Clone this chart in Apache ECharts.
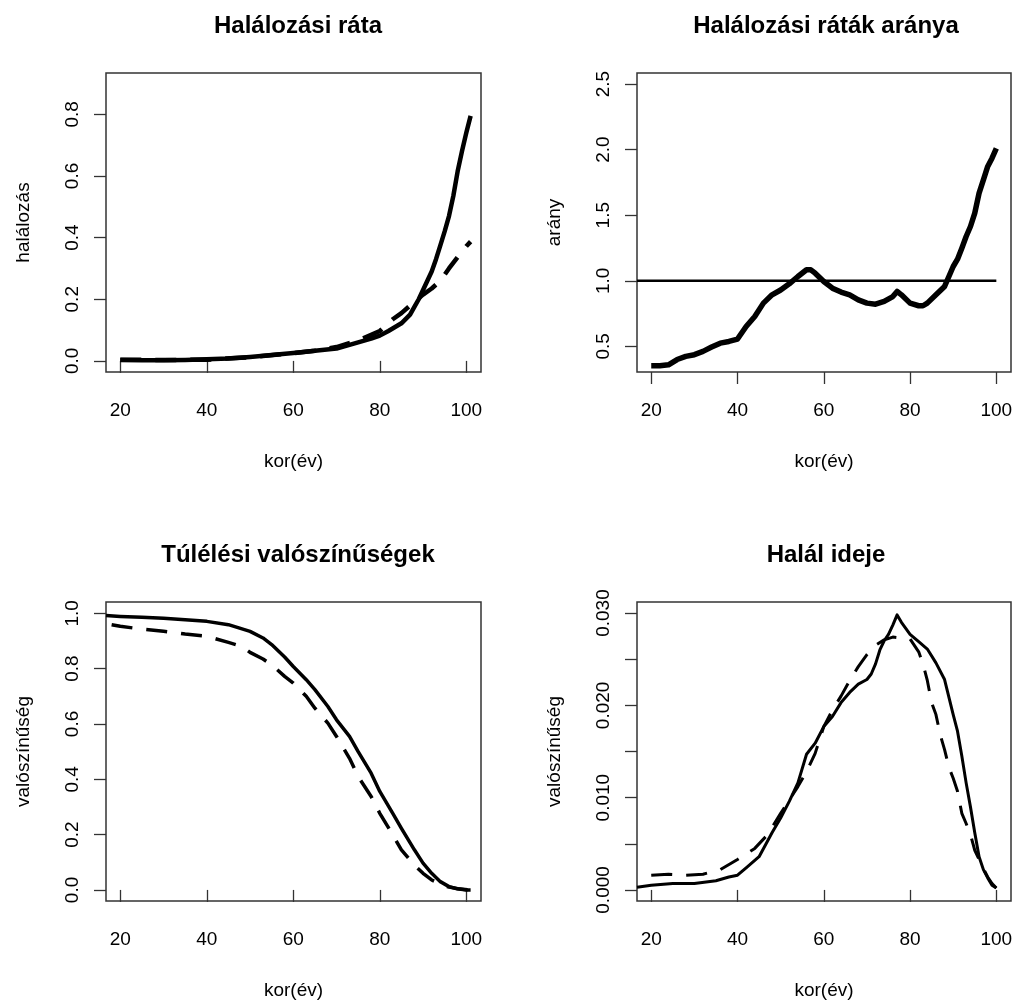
<!DOCTYPE html>
<html>
<head>
<meta charset="utf-8">
<title>Halálozás</title>
<script src="https://cdn.jsdelivr.net/npm/echarts@6.0.0/dist/echarts.min.js"></script>
<style>
	html, body { margin: 0; padding: 0; background: #fff; }
	#chart { width: 1017px; height: 1008px; }
</style>
</head>
<body>
<div id="chart"></div>
<script>
// tengelyek osztásai
var ageTicks = [20, 40, 60, 80, 100];
var rateTicks = [0, 0.2, 0.4, 0.6, 0.8];
var ratioTicks = [0.5, 1.0, 1.5, 2.0, 2.5];
var survTicks = [0, 0.2, 0.4, 0.6, 0.8, 1.0];
var densTicks = [0, 0.005, 0.01, 0.015, 0.02, 0.025, 0.03];
var densLabels = [0, 0.01, 0.02, 0.03];

// 1. halálozási ráta
var rateAgeA = [20, 25, 30, 35, 40, 45, 50, 55, 60, 65, 70, 72, 75, 78, 80, 82, 85, 87, 88, 89, 90, 91, 92, 93, 94, 95, 96, 97, 98, 99, 100, 101];
var rateA = [0.003, 0.002, 0.002, 0.003, 0.005, 0.008, 0.013, 0.019, 0.026, 0.033, 0.040, 0.048, 0.060, 0.072, 0.082, 0.097, 0.122, 0.150, 0.175, 0.200, 0.230, 0.260, 0.290, 0.330, 0.375, 0.420, 0.470, 0.535, 0.615, 0.680, 0.740, 0.795];
var rateAgeB = [20, 30, 40, 50, 60, 65, 70, 75, 80, 83, 85, 88, 90, 92, 94, 96, 98, 100, 101];
var rateB = [0.004, 0.003, 0.004, 0.012, 0.025, 0.033, 0.045, 0.066, 0.097, 0.135, 0.155, 0.192, 0.215, 0.235, 0.260, 0.300, 0.337, 0.372, 0.387];

// 2. ráták aránya
var ratioAge = [20, 22, 24, 26, 28, 30, 32, 34, 36, 38, 40, 42, 44, 46, 48, 50, 52, 54, 56, 57, 58, 60, 62, 64, 66, 68, 70, 72, 74, 76, 77, 78, 80, 82, 83, 84, 86, 88, 89, 90, 91, 92, 93, 94, 95, 96, 97, 98, 99, 100];
var ratio = [0.353, 0.353, 0.36, 0.40, 0.424, 0.437, 0.462, 0.495, 0.525, 0.538, 0.556, 0.652, 0.728, 0.83, 0.893, 0.93, 0.977, 1.033, 1.084, 1.084, 1.058, 0.995, 0.944, 0.914, 0.893, 0.855, 0.83, 0.822, 0.843, 0.88, 0.919, 0.893, 0.83, 0.81, 0.81, 0.83, 0.893, 0.957, 1.033, 1.109, 1.165, 1.249, 1.338, 1.414, 1.516, 1.668, 1.77, 1.872, 1.935, 2.01];
var refAge = [16.7, 100];
var refLevel = [1, 1];

// 3. túlélési valószínűségek
var survAgeA = [16.7, 20, 25, 30, 35, 40, 45, 50, 53, 55, 58, 60, 63, 65, 68, 70, 73, 75, 78, 80, 83, 85, 88, 90, 92, 94, 96, 98, 100, 101];
var survA = [0.992, 0.989, 0.986, 0.982, 0.977, 0.971, 0.959, 0.935, 0.911, 0.887, 0.842, 0.808, 0.76, 0.724, 0.663, 0.615, 0.555, 0.50, 0.422, 0.356, 0.277, 0.223, 0.145, 0.097, 0.06, 0.03, 0.012, 0.004, 0.0, 0.0];
var survAgeB = [18, 20, 25, 30, 35, 40, 45, 48, 50, 53, 55, 58, 60, 63, 65, 68, 70, 73, 75, 78, 80, 83, 85, 88, 90, 92, 95, 98, 101];
var survB = [0.959, 0.953, 0.943, 0.935, 0.925, 0.917, 0.895, 0.881, 0.859, 0.835, 0.814, 0.772, 0.748, 0.70, 0.657, 0.603, 0.555, 0.476, 0.41, 0.338, 0.277, 0.199, 0.145, 0.09, 0.06, 0.036, 0.014, 0.004, 0.0];

// 4. halál ideje
var densAgeA = [16.7, 20, 25, 30, 35, 38, 40, 42, 45, 48, 50, 52, 54, 56, 58, 60, 62, 64, 66, 68, 70, 71, 72, 73, 74, 75, 76, 77, 78, 80, 82, 84, 86, 88, 90, 91, 92, 93, 94, 95, 96, 97, 98, 99, 100];
var densA = [0.0003, 0.0005, 0.0007, 0.0007, 0.001, 0.0014, 0.0016, 0.0024, 0.0036, 0.0062, 0.0078, 0.0096, 0.0116, 0.0147, 0.0159, 0.0177, 0.0188, 0.0203, 0.0214, 0.0223, 0.0228, 0.0234, 0.0245, 0.026, 0.027, 0.0277, 0.0287, 0.0298, 0.029, 0.0277, 0.0269, 0.0261, 0.0246, 0.0228, 0.019, 0.0172, 0.0145, 0.0116, 0.009, 0.0062, 0.0036, 0.0022, 0.0013, 0.0005, 0.0002];
var densAgeB = [20, 24, 28, 32, 36, 40, 44, 47, 50, 54, 56, 58, 60, 62, 64, 66, 68, 70, 71, 72, 74, 76, 78, 80, 82, 83, 84, 85, 86, 87, 88, 89, 90, 91, 92, 93, 94, 95, 96, 97, 98, 99, 100];
var densB = [0.0016, 0.0017, 0.0016, 0.0017, 0.0022, 0.0033, 0.0045, 0.006, 0.0083, 0.0112, 0.0128, 0.0148, 0.0177, 0.0195, 0.021, 0.0227, 0.0242, 0.0255, 0.026, 0.0265, 0.0271, 0.0274, 0.0273, 0.0272, 0.0258, 0.0245, 0.0227, 0.0203, 0.019, 0.0168, 0.0152, 0.0133, 0.0121, 0.0107, 0.0083, 0.0072, 0.006, 0.0043, 0.0033, 0.0023, 0.0014, 0.0007, 0.0002];

var FONT = '"Liberation Sans", Arial, sans-serif';
var DASH = [21, 14];

//x,y párok összefűzése
function pairs(xs, ys) {
	var out = [];
	for(var i = 0; i < xs.length; i++) {
		out.push([xs[i], ys[i]]);
	}
	return out;
}

function xAxisOf(idx) {
	return {
		type: 'value',
		gridIndex: idx,
		min: 16.7,
		max: 103.4,
		name: 'kor(év)',
		nameLocation: 'middle',
		nameGap: 80,
		nameTextStyle: { fontFamily: FONT, fontSize: 19, color: '#000' },
		axisLine: { show: false },
		axisTick: { show: true, inside: false, length: 12, customValues: ageTicks, lineStyle: { color: '#333', width: 1.3 } },
		axisLabel: { customValues: ageTicks, margin: 29, fontFamily: FONT, fontSize: 19, color: '#000' },
		splitLine: { show: false }
	};
}

function yAxisOf(idx, name, min, max, ticks, labels, digits) {
	return {
		type: 'value',
		gridIndex: idx,
		min: min,
		max: max,
		name: name,
		nameLocation: 'middle',
		nameGap: 73,
		nameTextStyle: { fontFamily: FONT, fontSize: 19, color: '#000' },
		axisLine: { show: false },
		axisTick: { show: true, inside: false, length: 12, customValues: ticks, lineStyle: { color: '#333', width: 1.3 } },
		axisLabel: {
			customValues: labels,
			rotate: 90,
			margin: 24,
			fontFamily: FONT,
			fontSize: 19,
			color: '#000',
			formatter: function(v) { return v.toFixed(digits); }
		},
		splitLine: { show: false }
	};
}

function lineOf(idx, data, dashed, width) {
	return {
		type: 'line',
		xAxisIndex: idx,
		yAxisIndex: idx,
		data: data,
		showSymbol: false,
		symbol: 'none',
		animation: false,
		lineStyle: { color: '#000', width: width, type: dashed ? DASH : 'solid', cap: 'butt', join: 'round' }
	};
}

var myChart = echarts.init(document.getElementById('chart'));

var gridStyle = { show: true, borderColor: '#333', borderWidth: 1.5, backgroundColor: '#fff' };
var titleStyle = { fontFamily: FONT, fontSize: 24, fontWeight: 'bold', color: '#000' };

var option = {
	backgroundColor: '#fff',
	animation: false,
	title: [
		{ text: 'Halálozási ráta', left: 293, top: 9, textAlign: 'center', textStyle: titleStyle },
		{ text: 'Halálozási ráták aránya', left: 821, top: 9, textAlign: 'center', textStyle: titleStyle },
		{ text: 'Túlélési valószínűségek', left: 293, top: 538, textAlign: 'center', textStyle: titleStyle },
		{ text: 'Halál ideje', left: 821, top: 538, textAlign: 'center', textStyle: titleStyle }
	],
	grid: [
		Object.assign({ left: 106, top: 73, width: 375, height: 299 }, gridStyle),
		Object.assign({ left: 637, top: 73, width: 374, height: 299 }, gridStyle),
		Object.assign({ left: 106, top: 602, width: 375, height: 299 }, gridStyle),
		Object.assign({ left: 637, top: 602, width: 374, height: 299 }, gridStyle)
	],
	xAxis: [xAxisOf(0), xAxisOf(1), xAxisOf(2), xAxisOf(3)],
	yAxis: [
		yAxisOf(0, 'halálozás', -0.036, 0.934, rateTicks, rateTicks, 1),
		yAxisOf(1, 'arány', 0.305, 2.584, ratioTicks, ratioTicks, 1),
		yAxisOf(2, 'valószínűség', -0.04, 1.041, survTicks, survTicks, 1),
		yAxisOf(3, 'valószínűség', -0.0012, 0.0312, densTicks, densLabels, 3)
	],
	series: [
		lineOf(0, pairs(rateAgeB, rateB), true, 4.5),
		lineOf(0, pairs(rateAgeA, rateA), false, 4.5),
		lineOf(1, pairs(refAge, refLevel), false, 2.5),
		lineOf(1, pairs(ratioAge, ratio), false, 5.5),
		lineOf(2, pairs(survAgeB, survB), true, 3.5),
		lineOf(2, pairs(survAgeA, survA), false, 3.5),
		lineOf(3, pairs(densAgeB, densB), true, 3),
		lineOf(3, pairs(densAgeA, densA), false, 3)
	]
};
myChart.setOption(option);
</script>
</body>
</html>
